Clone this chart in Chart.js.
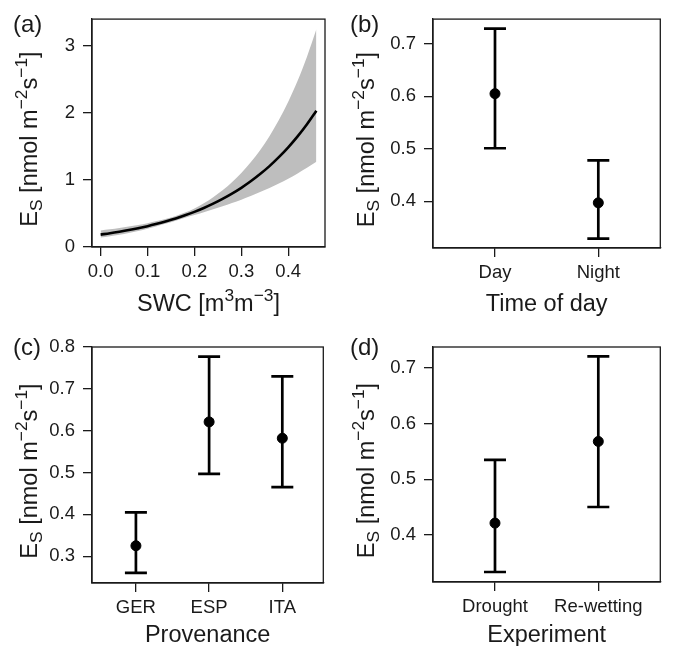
<!DOCTYPE html>
<html><head><meta charset="utf-8">
<script src="https://cdn.jsdelivr.net/npm/chart.js@4/dist/chart.umd.min.js"></script>
<style>
body{margin:0;background:#fff;width:674px;height:646px;position:relative;overflow:hidden}
canvas{position:absolute}
</style>
</head><body>
<canvas id="ca" width="337" height="323" style="left:0;top:0"></canvas>
<canvas id="cb" width="337" height="323" style="left:337px;top:0"></canvas>
<canvas id="cc" width="337" height="323" style="left:0;top:323px"></canvas>
<canvas id="cd" width="337" height="323" style="left:337px;top:323px"></canvas>
<script>
// ---- data ----
const swc      = [0.00,0.02,0.04,0.06,0.08,0.10,0.12,0.14,0.16,0.18,0.20,0.22,0.24,0.26,0.28,0.30,0.32,0.34,0.36,0.38,0.40,0.42,0.44,0.46];
const swcMean  = [0.185,0.205,0.228,0.253,0.281,0.311,0.346,0.384,0.426,0.473,0.524,0.582,0.646,0.717,0.796,0.883,0.980,1.088,1.207,1.340,1.487,1.650,1.831,2.032];
const swcUpper = [0.245,0.263,0.284,0.306,0.330,0.356,0.387,0.421,0.462,0.513,0.576,0.652,0.742,0.846,0.967,1.104,1.263,1.445,1.653,1.893,2.167,2.480,2.840,3.250];
const swcLower = [0.140,0.160,0.183,0.209,0.239,0.272,0.310,0.350,0.393,0.436,0.477,0.519,0.562,0.607,0.655,0.706,0.760,0.819,0.881,0.949,1.020,1.098,1.181,1.270];
const swcTicks = [0, 0.1, 0.2, 0.3, 0.4];
const swcTickLabels = ['0.0','0.1','0.2','0.3','0.4'];
const esTicksA = [0, 1, 2, 3];
const esTickLabelsA = ['0','1','2','3'];

const timeCats = ['Day','Night'];
const timeMean = [0.605, 0.397];
const timeLow  = [0.501, 0.329];
const timeHigh = [0.729, 0.478];
const esTicksB = [0.4, 0.5, 0.6, 0.7];
const esTickLabelsB = ['0.4','0.5','0.6','0.7'];

const provCats = ['GER','ESP','ITA'];
const provMean = [0.325, 0.621, 0.582];
const provLow  = [0.260, 0.497, 0.465];
const provHigh = [0.405, 0.777, 0.730];
const esTicksC = [0.3, 0.4, 0.5, 0.6, 0.7, 0.8];
const esTickLabelsC = ['0.3','0.4','0.5','0.6','0.7','0.8'];

const expCats = ['Drought','Re-wetting'];
const expMean = [0.421, 0.568];
const expLow  = [0.333, 0.450];
const expHigh = [0.535, 0.721];
const esTicksD = [0.4, 0.5, 0.6, 0.7];
const esTickLabelsD = ['0.4','0.5','0.6','0.7'];

// ---- styling ----
const FONT = '"Liberation Sans", Arial, Helvetica, sans-serif';
const INK = '#1a1a1a';
const TICK_SIZE = 18.5;
const TITLE_SIZE = 23.5;
const YTITLE_SIZE = 23.5;
Chart.defaults.font.family = FONT;
Chart.defaults.color = INK;
Chart.defaults.animation = false;

const yTitle = [{t:'E'},{t:'S',sub:true},{t:' [nmol m'},{t:'\u22122',sup:true},{t:'s'},{t:'\u22121',sup:true},{t:']'}];

function drawRich(ctx, segs, x, y, size, rot){
  const small = size*0.74;
  let total = 0;
  const ws = segs.map(s=>{ctx.font = (s.sub||s.sup?small:size)+'px '+FONT; const w = ctx.measureText(s.t).width; total += w; return w;});
  ctx.save();
  ctx.translate(x,y);
  if(rot) ctx.rotate(-Math.PI/2);
  ctx.fillStyle = INK;
  ctx.textBaseline = 'alphabetic';
  ctx.textAlign = 'left';
  let cx = -total/2;
  segs.forEach((s,i)=>{
    ctx.font = (s.sub||s.sup?small:size)+'px '+FONT;
    const dy = s.sub ? size*0.24 : (s.sup ? -size*0.42 : 0);
    ctx.fillText(s.t, cx, dy);
    cx += ws[i];
  });
  ctx.restore();
}

function decorPlugin(label, xTitleSegs, xTitleBaseline){
  return {
    id:'decor',
    afterDraw(chart){
      const ctx = chart.ctx, a = chart.chartArea;
      ctx.save();
      ctx.strokeStyle = INK; ctx.lineWidth = 1.3;
      ctx.strokeRect(a.left, a.top, a.right-a.left, a.bottom-a.top);
      ctx.restore();
      ctx.save();
      ctx.font = '24px '+FONT; ctx.fillStyle = INK; ctx.textBaseline='alphabetic'; ctx.textAlign='left';
      ctx.fillText(label, 13, 31.5);
      ctx.restore();
      drawRich(ctx, xTitleSegs, (a.left+a.right)/2, xTitleBaseline, TITLE_SIZE, false);
      drawRich(ctx, yTitle, 36.5, (a.top+a.bottom)/2 + 6, YTITLE_SIZE, true);
    }
  };
}

function axisCommon(){
  return {
    grid:{display:true, drawOnChartArea:false, drawTicks:true, tickLength:9, color:INK, lineWidth:1.3},
    border:{display:true, color:INK, width:1.3}
  };
}

function scales(box, xMin, xMax, xTickVals, xTickLabels, yMin, yMax, yTickVals, yTickLabels){
  return {
    x: Object.assign(axisCommon(), {
      type:'linear', position:'bottom', min:xMin, max:xMax,
      afterBuildTicks: s => { s.ticks = xTickVals.map(v=>({value:v})); },
      afterFit: s => { s.height = 323 - box.bottom; },
      ticks:{autoSkip:false, maxRotation:0, padding:5, font:{size:TICK_SIZE}, color:INK,
             callback:(v,i)=>xTickLabels[i]}
    }),
    y: Object.assign(axisCommon(), {
      type:'linear', position:'left', min:yMin, max:yMax,
      afterBuildTicks: s => { s.ticks = yTickVals.map(v=>({value:v})); },
      afterFit: s => { s.width = box.left; },
      ticks:{autoSkip:false, padding:8, font:{size:TICK_SIZE}, color:INK,
             callback:(v,i)=>yTickLabels[i]}
    })
  };
}

function baseOptions(box, sc){
  return {
    responsive:false, animation:false,
    layout:{padding:{left:0, top:box.top, right:337-box.right, bottom:0}},
    plugins:{legend:{display:false}, tooltip:{enabled:false}},
    scales:sc
  };
}

// ---- panel (a) ----
(function(){
  const box = {left:92, right:325, top:13, bottom:247};
  const pts = arr => swc.map((x,i)=>({x:x, y:arr[i]}));
  new Chart(document.getElementById('ca'), {
    type:'line',
    data:{datasets:[
      {data:pts(swcMean), borderColor:'#000', borderWidth:2.6, pointRadius:0, fill:false, cubicInterpolationMode:'monotone'},
      {data:pts(swcUpper), borderWidth:0, borderColor:'rgba(0,0,0,0)', pointRadius:0, backgroundColor:'#bebebe', fill:'+1', cubicInterpolationMode:'monotone'},
      {data:pts(swcLower), borderWidth:0, borderColor:'rgba(0,0,0,0)', pointRadius:0, fill:false, cubicInterpolationMode:'monotone'}
    ]},
    options: baseOptions(box, scales(box, -0.0184, 0.4784, swcTicks, swcTickLabels, 0, 3.40, esTicksA, esTickLabelsA)),
    plugins:[decorPlugin('(a)', [{t:'SWC [m'},{t:'3',sup:true},{t:'m'},{t:'\u22123',sup:true},{t:']'}], 310.5)]
  });
})();

// ---- error-bar panels ----
function errorChart(id, box, cats, means, lows, highs, xMin, xMax, yMin, yMax, yTicks, yTickLabels, label, xTitle, xTitleBaseline){
  const ds = [{
    data: cats.map((c,i)=>({x:i+1, y:means[i]})),
    showLine:false, pointRadius:5, pointStyle:'circle',
    pointBackgroundColor:'#000', pointBorderColor:'#000', pointBorderWidth:1
  }];
  cats.forEach((c,i)=>{
    ds.push({
      data:[{x:i+1, y:lows[i]},{x:i+1, y:highs[i]}],
      showLine:true, borderColor:'#000', borderWidth:2.7,
      pointStyle:'line', pointRadius:11, pointBorderColor:'#000', pointBorderWidth:2.7, fill:false
    });
  });
  new Chart(document.getElementById(id), {
    type:'line',
    data:{datasets:ds},
    options: baseOptions(box, scales(box, xMin, xMax, cats.map((c,i)=>i+1), cats, yMin, yMax, yTicks, yTickLabels)),
    plugins:[decorPlugin(label, [{t:xTitle}], xTitleBaseline)]
  });
}

errorChart('cb', {left:96, right:332, top:13, bottom:248}, timeCats, timeMean, timeLow, timeHigh,
           0.4, 2.6, 0.311, 0.747, esTicksB, esTickLabelsB, '(b)', 'Time of day', 310.5);
errorChart('cc', {left:92, right:325, top:24, bottom:260}, provCats, provMean, provLow, provHigh,
           0.4, 3.56, 0.236, 0.800, esTicksC, esTickLabelsC, '(c)', 'Provenance', 319);
errorChart('cd', {left:96, right:332, top:24, bottom:259}, expCats, expMean, expLow, expHigh,
           0.4, 2.6, 0.315, 0.738, esTicksD, esTickLabelsD, '(d)', 'Experiment', 319);
</script>
</body></html>
